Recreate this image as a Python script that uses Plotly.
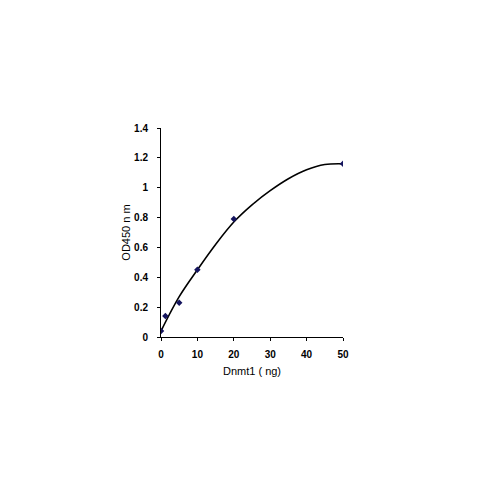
import plotly.graph_objects as go

# measured points
dose_ng = [0, 1.2, 5, 10, 20, 50]
od450 = [0.04, 0.14, 0.23, 0.45, 0.79, 1.16]

# trend curve
curve_x = [0, 5, 10, 15, 20, 25, 30, 35, 40, 45, 50]
curve_y = [0.04, 0.27, 0.45, 0.62, 0.77, 0.885, 0.98, 1.06, 1.12, 1.155, 1.16]

fig = go.Figure()

fig.add_trace(go.Scatter(
    x=curve_x, y=curve_y, mode='lines', line_shape='spline',
    line=dict(color='black', width=1.6), hoverinfo='skip'
))

fig.add_trace(go.Scatter(
    x=dose_ng, y=od450, mode='markers',
    marker=dict(symbol='diamond', color='#14145e', size=5)
))

tick_font = dict(family='Arial, Liberation Sans', size=10, color='black', weight='bold')
title_font = dict(family='Arial, Liberation Sans', size=11, color='black')

fig.update_xaxes(
    range=[0, 50], tickvals=[0, 10, 20, 30, 40, 50],
    showline=True, linecolor='black', linewidth=1,
    ticks='outside', ticklen=3, tickcolor='black',
    showgrid=False, zeroline=False, tickfont=tick_font,
    ticklabelstandoff=5,
    title=dict(text='Dnmt1 ( ng)', font=title_font, standoff=8)
)
fig.update_yaxes(
    range=[0, 1.4], tickvals=[0, 0.2, 0.4, 0.6, 0.8, 1, 1.2, 1.4],
    showline=True, linecolor='black', linewidth=1,
    ticks='outside', ticklen=3, tickcolor='black',
    showgrid=False, zeroline=False, tickfont=tick_font,
    ticklabelstandoff=7,
    title=dict(text='OD450 n m', font=title_font, standoff=1)
)

fig.update_layout(
    width=500, height=500,
    margin=dict(l=153, r=165, t=120, b=171),
    plot_bgcolor='white', paper_bgcolor='white',
    showlegend=False
)

fig.write_html("out.html")
